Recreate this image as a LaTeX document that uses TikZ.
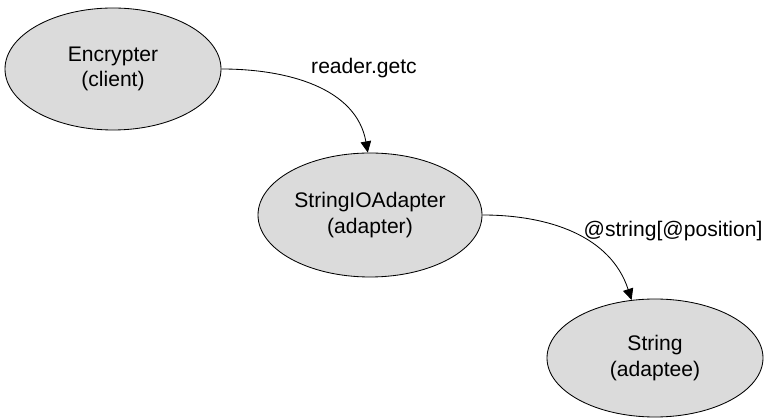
\documentclass[tikz,border=0pt]{standalone}
\usepackage{fontspec}
\setmainfont{Liberation Sans}
\usetikzlibrary{positioning,shapes.geometric,arrows.meta}

\tikzset{
  role/.style={draw, ellipse, fill=black!14, line width=0.6pt, align=center, inner sep=0pt},
  call/.style={-{Triangle[length=8pt,width=7.5pt]}, line width=0.6pt},
}

\begin{document}
\begin{tikzpicture}[font=\fontsize{15}{18}\selectfont]
  % Frame: same proportions as the reference
  \useasboundingbox (0,0) rectangle (19.25,10.45);

  % Objects
  \node (client)  [role, minimum width=5.4cm, minimum height=3.05cm] at (2.825,8.725) {Encrypter\\(client)};
  \node (adapter) [role, minimum width=5.6cm, minimum height=3.1cm]  at (9.25,5.075)  {StringIOAdapter\\(adapter)};
  \node (adaptee) [role, minimum width=5.4cm, minimum height=2.95cm] at (16.375,1.5)  {String\\(adaptee)};

  % Calls
  \draw[call] (client.east) to[out=0, in=100] (adapter.92);
  \draw[call] (adapter.east) to[out=0, in=108] (adaptee.112);

  % Call labels
  \node (getc) at (9.1,8.75)    {reader.getc};
  \node (index) at (16.825,4.675) {@string[@position]};
\end{tikzpicture}
\end{document}
